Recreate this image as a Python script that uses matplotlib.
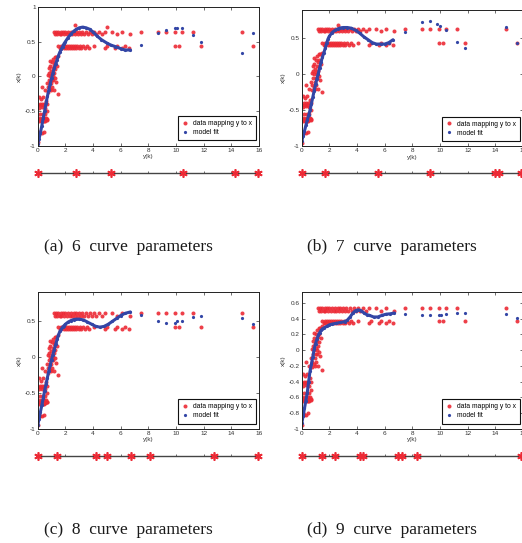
import matplotlib
matplotlib.use('Agg')
import matplotlib.pyplot as plt

plt.rcParams['font.family'] = ['Liberation Sans', 'DejaVu Sans']
plt.rcParams['axes.unicode_minus'] = False

RED = '#ec2a35'
BLUE = '#3346a6'

# ---------------- red data "data mapping y to x" (shared sample positions) ----------------
steep_y = [0.00, 0.02, 0.05, 0.06, 0.08, 0.10, 0.12, 0.14, 0.16, 0.18, 0.20, 0.22, 0.24, 0.26,
           0.28, 0.30, 0.32, 0.34, 0.36, 0.38, 0.40, 0.42, 0.44, 0.46, 0.48, 0.50, 0.52, 0.54,
           0.56, 0.58, 0.60, 0.62, 0.64, 0.66, 0.68, 0.70, 0.10, 0.30, 0.45, 0.15, 0.35, 0.55,
           0.70, 0.72, 0.75, 0.78, 0.80, 0.82, 0.85, 0.88, 0.90, 0.92, 0.95, 0.97, 1.00, 1.02,
           1.05, 1.08, 1.10, 1.12, 1.15, 1.18, 1.20, 1.22, 1.25, 1.28, 1.30, 1.35, 1.40, 1.45,
           1.50, 0.88, 1.00, 1.12, 0.95, 1.25]
steep_x = [-0.95, -0.62, -0.42, -0.65, -0.30, -0.60, -0.45, -0.63, -0.40, -0.82, -0.62, -0.33,
           -0.65, -0.42, -0.15, -0.60, -0.82, -0.44, -0.63, -0.30, -0.65, -0.42, -0.80, -0.60,
           -0.40, -0.62, -0.20, -0.64, -0.45, -0.62, -0.35, -0.60, -0.50, -0.63, -0.40, -0.62,
           -0.80, -0.40, -0.65, -0.55, -0.55, -0.55,
           -0.10, -0.22, 0.02, -0.15, 0.12, -0.05, 0.05, -0.18, 0.15, 0.00, 0.08, -0.10, 0.20,
           0.03, -0.15, 0.12, 0.25, -0.05, 0.17, 0.05, -0.20, 0.28, 0.10, 0.20, -0.08, 0.28,
           0.15, -0.25, 0.30, 0.22, -0.05, 0.00, -0.20, -0.02]
band_up1_y = [1.20, 1.35, 1.50, 1.65, 1.80, 2.00, 2.20, 2.40, 2.60, 2.80, 3.00, 3.20, 3.50,
              3.80, 4.10, 4.45, 4.85, 5.40, 6.10]
band_up2_y = [1.28, 1.42, 1.58, 1.72, 1.90, 2.10, 2.30, 2.50, 2.70, 2.90, 3.10, 3.35, 3.65,
              3.95, 4.25, 4.65, 5.70, 6.70]
band_lo1_y = [1.50, 1.65, 1.80, 1.95, 2.10, 2.25, 2.40, 2.55, 2.70, 2.85, 3.05, 3.25, 3.55,
              4.10, 5.00, 5.70, 6.30]
band_lo2_y = [1.58, 1.72, 1.88, 2.02, 2.18, 2.32, 2.48, 2.62, 2.78, 2.95, 3.15, 3.40, 3.70,
              4.90, 5.60, 6.10, 6.60]
tail_up_y = [7.5, 8.7, 9.3, 9.9, 10.4, 11.2, 14.8]
tail_lo_y = [9.9, 10.2, 11.8, 15.6]

# band levels per panel: upper1, upper2, lower1, lower2
levels_a = [0.645, 0.61, 0.435, 0.41]
levels_b = [0.635, 0.60, 0.435, 0.41]
levels_c = [0.605, 0.57, 0.405, 0.38]
levels_d = [0.535, 0.50, 0.365, 0.34]
extra_a_y, extra_a_x = [2.7, 5.0], [0.74, 0.71]
extra_b_y, extra_b_x = [2.65], [0.68]
extra_c_y, extra_c_x = [], []
extra_d_y, extra_d_x = [], []

# ---------------- blue "model fit" per panel ----------------
fit_a_y = [0.0, 0.1, 0.2, 0.3, 0.4, 0.5, 0.6, 0.7, 0.8, 0.9, 1.0, 1.1, 1.2, 1.3, 1.4, 1.5, 1.6,
           1.7, 1.8, 1.9, 2.0, 2.2, 2.4, 2.6, 2.8, 3.0, 3.25, 3.5, 3.75, 4.0, 4.3, 4.6, 5.0, 5.3,
           5.6, 6.0, 6.3, 6.7, 7.5, 8.7, 9.3, 9.9, 10.1, 10.4, 11.2, 11.8, 14.8, 15.6]
fit_a_x = [-0.97, -0.90, -0.81, -0.71, -0.60, -0.50, -0.39, -0.29, -0.20, -0.11, -0.03, 0.05,
           0.12, 0.18, 0.24, 0.30, 0.35, 0.39, 0.43, 0.47, 0.50, 0.56, 0.61, 0.65, 0.68, 0.70,
           0.71, 0.70, 0.68, 0.64, 0.58, 0.53, 0.48, 0.45, 0.43, 0.40, 0.38, 0.38, 0.45, 0.62,
           0.67, 0.70, 0.70, 0.69, 0.59, 0.49, 0.34, 0.62]
fit_b_y = [0.0, 0.1, 0.2, 0.3, 0.4, 0.5, 0.6, 0.7, 0.8, 0.9, 1.0, 1.1, 1.2, 1.3, 1.4, 1.5, 1.6,
           1.7, 1.8, 1.9, 2.0, 2.2, 2.4, 2.6, 2.8, 3.0, 3.3, 3.6, 3.9, 4.2, 4.5, 4.8, 5.1, 5.4,
           5.7, 6.0, 6.3, 6.6, 7.5, 8.7, 9.3, 9.8, 10.0, 10.4, 11.2, 11.8, 14.8, 15.6]
fit_b_x = [-0.93, -0.86, -0.79, -0.71, -0.64, -0.57, -0.50, -0.41, -0.32, -0.23, -0.14, -0.06,
           0.01, 0.09, 0.17, 0.24, 0.30, 0.36, 0.43, 0.49, 0.53, 0.58, 0.61, 0.63, 0.645, 0.65,
           0.65, 0.64, 0.61, 0.57, 0.52, 0.48, 0.44, 0.42, 0.42, 0.42, 0.44, 0.48, 0.59, 0.73,
           0.74, 0.70, 0.67, 0.61, 0.45, 0.37, 0.66, 0.43]
fit_c_y = [0.0, 0.1, 0.2, 0.3, 0.4, 0.5, 0.6, 0.7, 0.8, 0.9, 1.0, 1.1, 1.2, 1.3, 1.4, 1.5, 1.6,
           1.7, 1.8, 1.9, 2.0, 2.2, 2.4, 2.6, 2.8, 3.0, 3.3, 3.6, 3.9, 4.2, 4.5, 4.8, 5.1, 5.4,
           5.7, 6.0, 6.3, 6.7, 7.5, 8.7, 9.3, 9.9, 10.1, 10.4, 11.2, 11.8, 14.8, 15.6]
fit_c_x = [-0.95, -0.86, -0.76, -0.67, -0.57, -0.47, -0.38, -0.29, -0.20, -0.12, -0.04, 0.03,
           0.10, 0.17, 0.24, 0.30, 0.35, 0.38, 0.41, 0.43, 0.45, 0.48, 0.50, 0.515, 0.52, 0.52,
           0.51, 0.48, 0.45, 0.42, 0.41, 0.42, 0.45, 0.49, 0.53, 0.57, 0.60, 0.62, 0.58, 0.49,
           0.47, 0.47, 0.49, 0.50, 0.55, 0.56, 0.54, 0.45]
fit_d_y = [0.0, 0.1, 0.2, 0.3, 0.4, 0.5, 0.6, 0.7, 0.8, 0.9, 1.0, 1.1, 1.2, 1.3, 1.4, 1.5, 1.6,
           1.8, 2.0, 2.2, 2.5, 2.8, 3.1, 3.3, 3.5, 3.7, 3.9, 4.1, 4.3, 4.5, 4.7, 4.9, 5.2, 5.5,
           5.8, 6.1, 6.4, 6.7, 7.5, 8.7, 9.3, 9.9, 10.1, 10.4, 11.2, 11.8, 14.8, 15.6]
fit_d_x = [-0.93, -0.84, -0.74, -0.64, -0.54, -0.40, -0.27, -0.18, -0.09, 0.01, 0.08, 0.14,
           0.19, 0.22, 0.25, 0.27, 0.28, 0.30, 0.32, 0.33, 0.34, 0.35, 0.36, 0.38, 0.42, 0.47,
           0.50, 0.51, 0.50, 0.47, 0.45, 0.44, 0.42, 0.42, 0.44, 0.455, 0.46, 0.47, 0.455, 0.44,
           0.44, 0.44, 0.45, 0.455, 0.47, 0.47, 0.455, 0.41]

# ---------------- knot positions ----------------
knots_a = [0.0, 2.8, 5.3, 10.5, 14.3, 15.9]
knots_b = [0.0, 1.7, 5.5, 9.3, 14.0, 14.3, 15.85]
knots_c = [0.0, 1.37, 4.22, 5.03, 6.75, 8.12, 12.77, 15.9]
knots_d = [0.0, 1.45, 2.4, 4.22, 4.41, 6.98, 7.23, 8.32, 15.85]

captions = ['(a)  6  curve  parameters', '(b)  7  curve  parameters',
            '(c)  8  curve  parameters', '(d)  9  curve  parameters']

xticks = [0, 2, 4, 6, 8, 10, 12, 14, 16]
yticks_abc = [-1, -0.5, 0, 0.5, 1]
yticks_d = [-1, -0.8, -0.6, -0.4, -0.2, 0, 0.2, 0.4, 0.6]

W, H = 522, 543
fig = plt.figure(figsize=(W / 100, H / 100), dpi=100)


def red_points(levels, ex_y, ex_x):
    ys = (steep_y + band_up1_y + band_up2_y + band_lo1_y + band_lo2_y
          + tail_up_y + tail_lo_y + ex_y)
    xs = (steep_x + [levels[0]] * len(band_up1_y) + [levels[1]] * len(band_up2_y)
          + [levels[2]] * len(band_lo1_y) + [levels[3]] * len(band_lo2_y)
          + [levels[0]] * len(tail_up_y) + [levels[2]] * len(tail_lo_y) + ex_x)
    return ys, xs


def panel(left_px, top_px, bot_px, strip_px, ylim, yticks, ylabels,
          red, fit_y, fit_x, knots, caption, cap_xy):
    width_px = 221.3
    ax = fig.add_axes([left_px / W, 1 - bot_px / H, width_px / W, (bot_px - top_px) / H])
    ry, rx = red
    ax.plot(ry, rx, 'o', ms=2.9, color=RED, mec='none', alpha=0.9,
            label='data mapping y to x')
    dense = [i for i, v in enumerate(fit_y) if v <= 6.75]
    ax.plot([fit_y[i] for i in dense], [fit_x[i] for i in dense], '-', lw=2.2,
            color=BLUE, solid_capstyle='round')
    ax.plot(fit_y, fit_x, 'o', ms=2.3, color=BLUE, mec='none', label='model fit')
    ax.set_xlim(0, 16)
    ax.set_ylim(*ylim)
    ax.set_xticks(xticks)
    ax.set_xticklabels([str(t) for t in xticks])
    ax.set_yticks(yticks)
    ax.set_yticklabels(ylabels)
    ax.tick_params(direction='in', length=2.2, width=0.5, labelsize=4.6, pad=1.5,
                   top=True, right=True, colors='#333333')
    for s in ax.spines.values():
        s.set_linewidth(0.7)
        s.set_color('#222222')
    ax.set_xlabel('y(k)', fontsize=4.6, labelpad=1, color='#333333')
    ax.set_ylabel('x(k)', fontsize=4.6, labelpad=2, color='#333333')
    leg = ax.legend(loc='lower right', bbox_to_anchor=(0.985, 0.04), fontsize=4.9,
                    handlelength=0.9, handletextpad=0.6, borderpad=0.6,
                    labelspacing=0.3, fancybox=False, framealpha=1, edgecolor='#111111',
                    borderaxespad=0)
    leg.get_frame().set_linewidth(0.8)

    # knot strip
    sx = fig.add_axes([left_px / W, 1 - strip_px / H - 0.01, width_px / W, 0.02])
    sx.set_xlim(0, 16)
    sx.set_ylim(-1, 1)
    sx.patch.set_visible(False)
    for k, s in sx.spines.items():
        s.set_visible(k == 'bottom')
    sx.spines['bottom'].set_position(('data', 0))
    sx.spines['bottom'].set_color('#444444')
    sx.spines['bottom'].set_linewidth(1.0)
    sx.set_yticks([])
    sx.set_xticks(xticks)
    sx.tick_params(axis='x', direction='in', length=1.5, width=0.6, colors='#555555',
                   labelbottom=False)
    sx.plot(knots, [0] * len(knots), ls='none', marker=(6, 2, 0), ms=6, mew=1.2,
            color=RED, clip_on=False, zorder=5)

    fig.text(cap_xy[0] / W, 1 - cap_xy[1] / H, caption, family='Liberation Serif',
             fontsize=12.5, ha='center', va='center', color='#1a1a1a')


lab_abc = ['-1', '-0.5', '0', '0.5', '1']
lab_d = ['-1', '-0.8', '-0.6', '-0.4', '-0.2', '0', '0.2', '0.4', '0.6']

panel(37.7, 7.0, 145.7, 172.7, (-1, 1), yticks_abc, lab_abc,
      red_points(levels_a, extra_a_y, extra_a_x), fit_a_y, fit_a_x, knots_a,
      captions[0], (128, 247))
panel(301.7, 9.5, 146.3, 172.7, (-1, 0.9), yticks_abc[:4], lab_abc[:4],
      red_points(levels_b, extra_b_y, extra_b_x), fit_b_y, fit_b_x, knots_b,
      captions[1], (392, 247))
panel(37.7, 291.7, 429.0, 456.0, (-1, 0.9), yticks_abc[:4], lab_abc[:4],
      red_points(levels_c, extra_c_y, extra_c_x), fit_c_y, fit_c_x, knots_c,
      captions[2], (128, 530))
panel(301.7, 291.7, 429.0, 456.0, (-1, 0.74), yticks_d, lab_d,
      red_points(levels_d, extra_d_y, extra_d_x), fit_d_y, fit_d_x, knots_d,
      captions[3], (392, 530))

fig.savefig('out.png', dpi=100)
